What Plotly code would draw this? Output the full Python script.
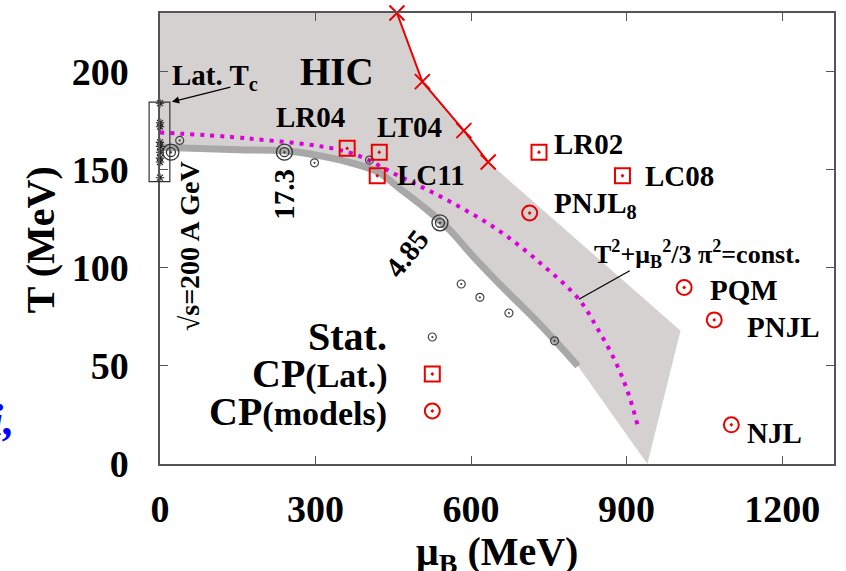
import plotly.graph_objects as go

# ---- data (MeV) ----
# lattice T_c estimates at mu_B = 0
lat_mu = [0, 0, 0, 0, 0, 0, 0, 0, 0]
lat_T = [184, 174, 172, 164, 162, 159, 156, 154, 146]

# chemical freeze-out curve (thick grey)
fo_mu = [0, 152, 238, 300, 363, 420, 460, 518, 560, 600, 654, 730, 806]
fo_T = [161.5, 160.2, 159.7, 157.6, 154, 149, 141, 129, 119, 107, 92, 72, 50]

# T^2 + mu_B^2/3pi^2 = const. curve (magenta dotted)
iso_mu = [0, 171, 363, 460, 558, 654, 740, 808, 844, 877, 902, 921]
iso_T = [169, 166, 159, 147, 134, 119, 101, 84, 69, 53, 37, 20]

# red line with crosses bounding the HIC region
cep_mu = [457, 506, 586, 633]
cep_T = [230, 195, 170, 154]

# remaining corners of the HIC band
hic_top_mu, hic_top_T = [0], [230]
hic_outer_mu, hic_outer_T = [1004, 940], [68, 0]

# statistical-model freeze-out points
stat_mu = [38, 298, 404, 581, 617, 673, 761]
stat_T = [165, 153.6, 155, 91.8, 85, 77, 62.8]

# highlighted beam energies
beam_mu = [21, 240, 540]
beam_T = [159, 159, 123]
beam_lbl = ["√s=200 A GeV", "17.3", "4.85"]

# critical points: lattice
cpl_lbl = ["LR04", "LT04", "LC11", "LR02", "LC08"]
cpl_mu = [361, 423, 419, 731, 892]
cpl_T = [161, 159, 147, 159, 147]

# critical points: effective models
cpm_lbl = ["PNJL<sub>8</sub>", "PQM", "PNJL", "NJL"]
cpm_mu = [713, 1011, 1069, 1102]
cpm_T = [128, 90, 73.5, 20]

x_ticks = [0, 300, 600, 900, 1200]
y_ticks = [0, 50, 100, 150, 200]
X_MAX, Y_MAX = 1300, 230

# ---- styles ----
SERIF = "Liberation Serif"
RED = "rgb(235,0,0)"
SHADE = "rgb(214,209,209)"
GREY = "rgb(168,168,168)"
MAGENTA = "rgb(220,0,220)"
DARK = "#333333"


def bold(size, color="black"):
    return dict(family=SERIF, size=size, color=color, weight="bold")


def open_marker(symbol, size, color, width):
    return dict(symbol=symbol, size=size, color=color, line=dict(color=color, width=width))


fig = go.Figure()

# HIC band
hic_mu = hic_top_mu + cep_mu + hic_outer_mu + fo_mu[::-1]
hic_T = hic_top_T + cep_T + hic_outer_T + fo_T[::-1]
fig.add_trace(go.Scatter(x=hic_mu, y=hic_T, mode="lines", fill="toself",
                         fillcolor=SHADE, line=dict(width=0), hoverinfo="skip"))

# freeze-out curve
fig.add_trace(go.Scatter(x=fo_mu, y=fo_T, mode="lines", line_shape="spline",
                         line=dict(color=GREY, width=7)))

# constant-energy curve
fig.add_trace(go.Scatter(x=iso_mu, y=iso_T, mode="lines", line_shape="spline",
                         line=dict(color=MAGENTA, width=4, dash="4px,6px")))

# red boundary with crosses
fig.add_trace(go.Scatter(x=cep_mu, y=cep_T, mode="lines+markers", cliponaxis=False,
                         line=dict(color=RED, width=2),
                         marker=open_marker("x-thin-open", 15, RED, 2)))

# lattice T_c
fig.add_trace(go.Scatter(x=lat_mu, y=lat_T, mode="markers", cliponaxis=False,
                         marker=open_marker("asterisk-open", 7, "#222", 1.1)))

# statistical-model points
fig.add_trace(go.Scatter(x=stat_mu, y=stat_T, mode="markers",
                         marker=open_marker("circle-open-dot", 8, "#444", 1.2)))
fig.add_trace(go.Scatter(x=beam_mu, y=beam_T, mode="markers",
                         marker=open_marker("circle-open", 16, DARK, 1.3)))
fig.add_trace(go.Scatter(x=beam_mu, y=beam_T, mode="markers",
                         marker=open_marker("circle-open-dot", 9, DARK, 1.3)))

# critical points
fig.add_trace(go.Scatter(x=cpl_mu, y=cpl_T, mode="markers",
                         marker=open_marker("square-open-dot", 15, RED, 2)))
fig.add_trace(go.Scatter(x=cpm_mu, y=cpm_T, mode="markers",
                         marker=open_marker("circle-open-dot", 15, RED, 2)))

# legend keys (drawn on an overlay frame in 0..1 units)
key_x = 0.404
key_y = [0.2816, 0.1996, 0.1175]
key_marks = [open_marker("circle-open-dot", 8, "#444", 1.2),
             open_marker("square-open-dot", 15, RED, 2),
             open_marker("circle-open-dot", 15, RED, 2)]
for ky, mk in zip(key_y, key_marks):
    fig.add_trace(go.Scatter(x=[key_x], y=[ky], xaxis="x2", yaxis="y2",
                             mode="markers", marker=mk))

ann = []

# point labels: (xanchor, xshift, yshift)
cpl_pos = [("center", -37, 31), ("center", 30, 25), ("left", 18, 1),
           ("left", 13, 8), ("left", 21, 0)]
for lbl, m, t, (xa, dx, dy) in zip(cpl_lbl, cpl_mu, cpl_T, cpl_pos):
    ann.append(dict(x=m, y=t, text=lbl, showarrow=False, xanchor=xa, yanchor="middle",
                    xshift=dx, yshift=dy, font=bold(29)))
cpm_pos = [("left", 22, 8), ("left", 24, -2), ("left", 31, -7), ("left", 14, -8)]
for lbl, m, t, (xa, dx, dy) in zip(cpm_lbl, cpm_mu, cpm_T, cpm_pos):
    ann.append(dict(x=m, y=t, text=lbl, showarrow=False, xanchor=xa, yanchor="middle",
                    xshift=dx, yshift=dy, font=bold(29)))

# beam-energy labels: (angle, xshift, yshift, size)
beam_pos = [(-90, 18, -94, 28), (-90, 0, -42, 29), (-52, -33, -30, 29)]
for lbl, m, t, (ang, dx, dy, fs) in zip(beam_lbl, beam_mu, beam_T, beam_pos):
    ann.append(dict(x=m, y=t, text=lbl, showarrow=False, textangle=ang,
                    xanchor="center", yanchor="middle", xshift=dx, yshift=dy,
                    font=bold(fs)))

# region and curve labels
ann.append(dict(x=342, y=200, text="HIC", showarrow=False, font=bold(39)))
ann.append(dict(x=106, y=197.5, text="Lat. T<sub>c</sub>", showarrow=False, font=bold(29)))
ann.append(dict(x=lat_mu[0] + 23, y=max(lat_T) + 0.7, text="", showarrow=True,
                ax=60, ay=-15, arrowhead=2, arrowsize=1.2, arrowwidth=1.2,
                arrowcolor="black"))
ann.append(dict(x=1035, y=107,
                text="T<sup>2</sup>+μ<sub>B</sub><sup>2</sup>/3 π<sup>2</sup>=const.",
                showarrow=False, font=bold(26)))

# legend texts
leg_txt = ["Stat.",
           "CP<span style='font-size:34px'>(Lat.)</span>",
           "CP<span style='font-size:34px'>(models)</span>"]
for txt, ky in zip(leg_txt, key_y):
    ann.append(dict(x=0.340, y=ky, xref="paper", yref="paper", text=txt, showarrow=False,
                    xanchor="right", yanchor="middle", font=bold(40)))

# axis titles
ann.append(dict(x=-0.1775, y=0.497, xref="paper", yref="paper", text="T (MeV)",
                textangle=-90, showarrow=False, xanchor="center", yanchor="middle",
                font=bold(40)))
ann.append(dict(x=0.5, y=-0.2, xref="paper", yref="paper", text="μ<sub>B</sub> (MeV)",
                showarrow=False, xanchor="center", yanchor="middle", font=bold(40)))

# stray blue glyphs at the left edge
ann.append(dict(x=-0.213, y=22, xref="paper", yref="y", text="<i>i,</i>",
                showarrow=False, xanchor="right", yanchor="middle",
                font=dict(family=SERIF, size=44, color="blue", weight="bold")))

# box around the lattice T_c points
fig.add_shape(type="rect", xref="paper", yref="paper",
              x0=-21 / X_MAX, x1=19 / X_MAX,
              y0=(min(lat_T) - 2) / Y_MAX, y1=(max(lat_T) + 0.5) / Y_MAX,
              line=dict(color=DARK, width=1.2))

# connector from the curve label to the dotted curve
fig.add_shape(type="line", xref="x", yref="y",
              x0=iso_mu[7], y0=iso_T[7], x1=906, y1=98.5,
              line=dict(color="black", width=1.2))

axis_common = dict(showline=True, linecolor="#555", linewidth=1.5, mirror="allticks",
                   ticks="inside", ticklen=8, tickcolor="#555", tickwidth=1.2,
                   showgrid=False, zeroline=False, tickfont=bold(38))

fig.update_layout(
    width=846, height=571,
    margin=dict(l=160, r=10, t=13, b=107),
    paper_bgcolor="white", plot_bgcolor="white",
    showlegend=False,
    xaxis=dict(range=[0, X_MAX], tickvals=x_ticks, ticklabelstandoff=11, **axis_common),
    yaxis=dict(range=[0, Y_MAX], tickvals=y_ticks, ticklabelstandoff=22, **axis_common),
    xaxis2=dict(range=[0, 1], overlaying="x", visible=False),
    yaxis2=dict(range=[0, 1], overlaying="y", visible=False),
    annotations=ann,
)

fig.write_html("out.html")
